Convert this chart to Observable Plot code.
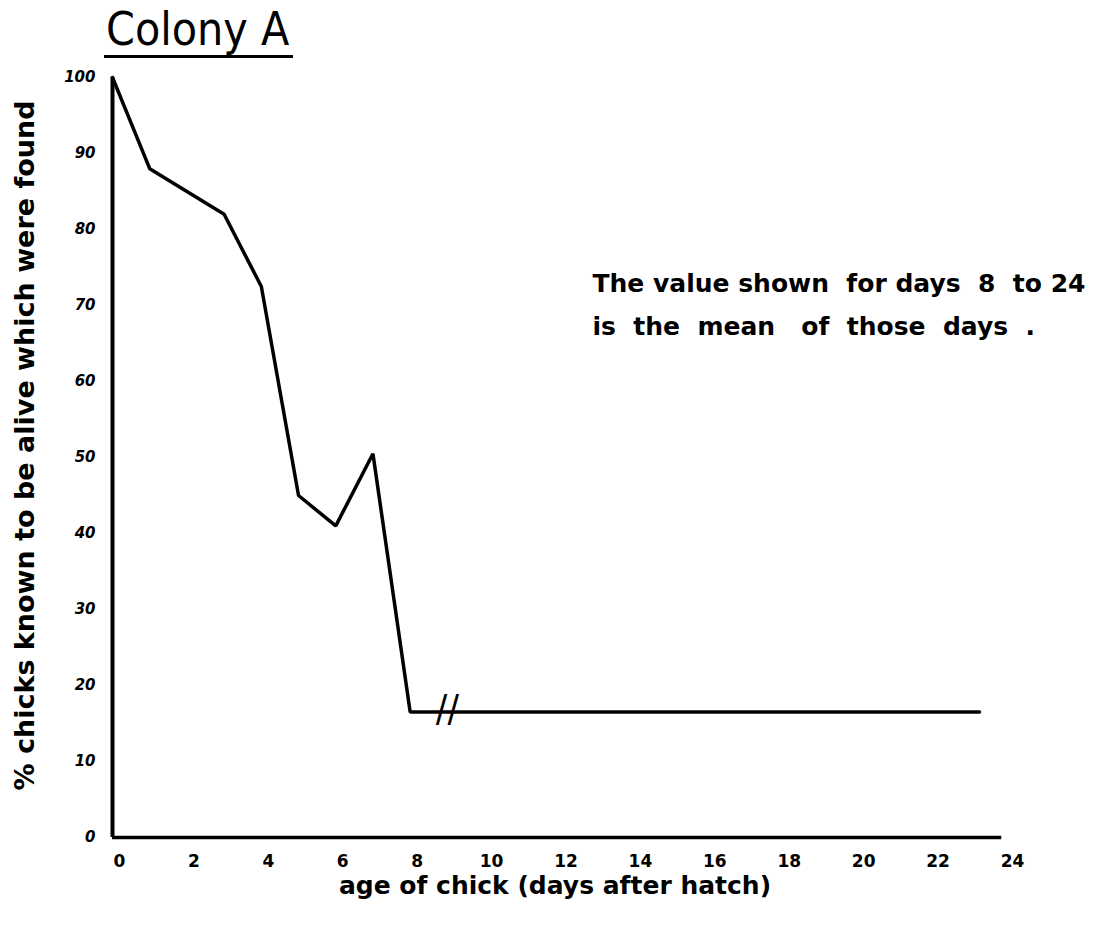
<!DOCTYPE html>
<html>
<head>
<meta charset="utf-8">
<script src="https://cdn.jsdelivr.net/npm/d3@7"></script>
<script src="https://cdn.jsdelivr.net/npm/@observablehq/plot@0.6"></script>
<style>
  body { margin: 0; background: #fff; }
  #wrap { position: relative; width: 1119px; height: 928px; overflow: hidden; }
  #title {
    position: absolute; left: 104px; top: 3px;
    font-family: "DejaVu Sans Condensed", "DejaVu Sans", sans-serif;
    font-stretch: condensed;
    font-size: 46px; font-weight: normal; line-height: 52px;
    border-bottom: 3px solid #000; padding: 0 4px 0 2px;
    color: #000;
  }
  #chart { position: absolute; left: 0; top: 0; }
</style>
</head>
<body>
<div id="wrap">
  <div id="chart"></div>
  <div id="title"></div>
</div>
<script>
// ---- data ----
const titleText = "Colony A";
const days = [0, 1, 3, 4, 5, 6, 7, 8, 23.3];
const pctFound = [100, 88, 82, 72.5, 45, 41, 50.5, 16.5, 16.5];
const xTicks = [0, 2, 4, 6, 8, 10, 12, 14, 16, 18, 20, 22, 24];
const yTicks = [0, 10, 20, 30, 40, 50, 60, 70, 80, 90, 100];
const xLabel = "age of chick (days after hatch)";
const yLabel = "% chicks known to be alive which were found";
const noteLines = ["The value shown  for days  8  to 24", "is  the  mean   of  those  days  ."];
const breakDay = 9;
const breakValue = 16.5;

const data = days.map((d, i) => ({day: d, pct: pctFound[i]}));

document.getElementById("title").textContent = titleText;

const font = "DejaVu Sans, sans-serif";

const chart = Plot.plot({
  width: 1119,
  height: 928,
  marginLeft: 112,
  marginRight: 114,
  marginTop: 77,
  marginBottom: 91,
  style: {fontFamily: font, fontWeight: "bold", background: "#fff", color: "#000"},
  x: {domain: [0, 24]},
  y: {domain: [0, 100]},
  marks: [
    Plot.axisX({ticks: xTicks, tickSize: 0, tickPadding: 17, fontSize: 17, label: null, dx: 7}),
    Plot.axisY({ticks: yTicks, tickSize: 0, tickPadding: 17, fontSize: 15, label: null, fontStyle: "italic"}),
    Plot.ruleX([0], {y1: 0, y2: 100, stroke: "#000", strokeWidth: 4}),
    Plot.ruleY([0], {x1: 0, x2: 23.9, stroke: "#000", strokeWidth: 3.5}),
    Plot.line(data, {x: "day", y: "pct", stroke: "#000", strokeWidth: 3.5, strokeLinejoin: "miter"}),
    Plot.text([{x: breakDay, y: breakValue}], {x: "x", y: "y", text: () => "//", fontSize: 38, fontWeight: "normal", fontFamily: "DejaVu Sans Condensed, DejaVu Sans", dy: -3}),
    Plot.text([xLabel], {frameAnchor: "bottom", lineAnchor: "middle", dy: 48, fontSize: 25, fontWeight: "bold", dx: -4}),
    Plot.text([yLabel], {frameAnchor: "left", textAnchor: "middle", rotate: -90, dx: -87, dy: -12, fontSize: 27, fontWeight: "bold"}),
    Plot.text([noteLines.join("\n")], {frameAnchor: "top-left", dx: 480, dy: 184, textAnchor: "start", lineAnchor: "top", lineHeight: 1.72, fontSize: 25, fontWeight: "bold"})
  ]
});
document.getElementById("chart").appendChild(chart);
</script>
</body>
</html>
